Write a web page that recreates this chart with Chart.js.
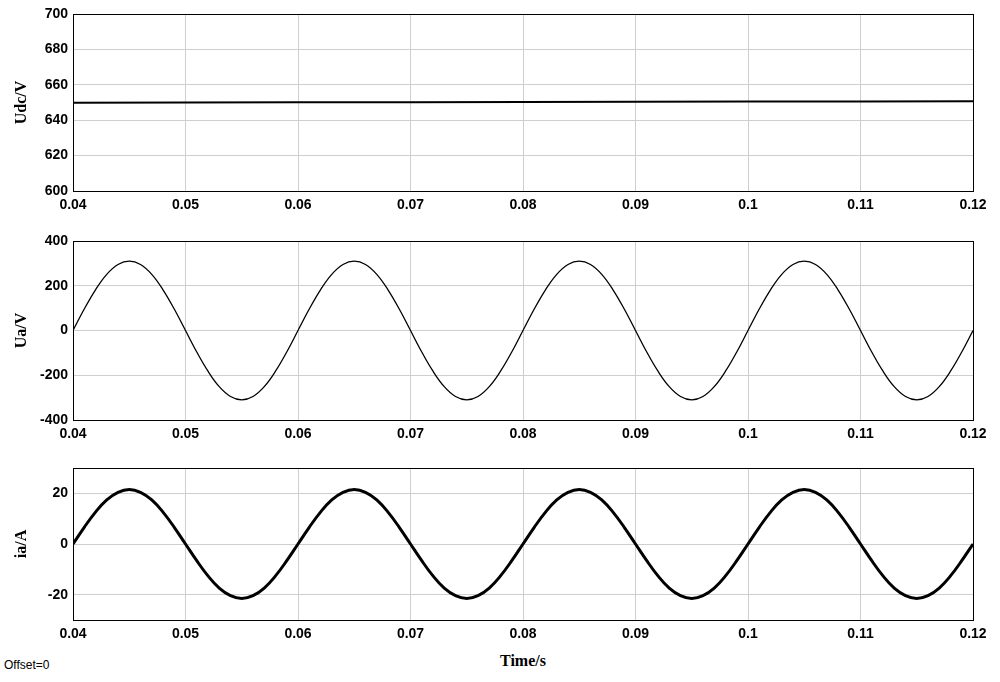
<!DOCTYPE html>
<html><head><meta charset="utf-8">
<script src="https://cdn.jsdelivr.net/npm/chart.js@4/dist/chart.umd.min.js"></script>
<style>
body{margin:0;background:#fff;width:1000px;height:682px;position:relative;overflow:hidden}
.c{position:absolute;left:0;width:1000px}
#t{position:absolute;left:0;width:1000px;top:652px;text-align:center;font:bold 16px "Liberation Serif";padding-left:46px;box-sizing:border-box}
#o{position:absolute;left:4px;top:658px;font:12px "Liberation Sans"}
</style></head><body>
<div class="c" style="top:0;height:225px"><canvas id="c1"></canvas></div>
<div class="c" style="top:227px;height:227px"><canvas id="c2"></canvas></div>
<div class="c" style="top:454px;height:198px"><canvas id="c3"></canvas></div>
<div id="t">Time/s</div><div id="o">Offset=0</div>
<script>
const time=[0.040,0.041,0.042,0.043,0.044,0.045,0.046,0.047,0.048,0.049,0.050,0.051,0.052,0.053,0.054,0.055,0.056,0.057,0.058,0.059,0.060,0.061,0.062,0.063,0.064,0.065,0.066,0.067,0.068,0.069,0.070,0.071,0.072,0.073,0.074,0.075,0.076,0.077,0.078,0.079,0.080,0.081,0.082,0.083,0.084,0.085,0.086,0.087,0.088,0.089,0.090,0.091,0.092,0.093,0.094,0.095,0.096,0.097,0.098,0.099,0.100,0.101,0.102,0.103,0.104,0.105,0.106,0.107,0.108,0.109,0.110,0.111,0.112,0.113,0.114,0.115,0.116,0.117,0.118,0.119,0.120];
const ua=[0,96,182,251,295,310,295,251,182,96,0,-96,-182,-251,-295,-310,-295,-251,-182,-96,
0,96,182,251,295,310,295,251,182,96,0,-96,-182,-251,-295,-310,-295,-251,-182,-96,
0,96,182,251,295,310,295,251,182,96,0,-96,-182,-251,-295,-310,-295,-251,-182,-96,
0,96,182,251,295,310,295,251,182,96,0,-96,-182,-251,-295,-310,-295,-251,-182,-96,0];
const ia=[0,6.6,12.6,17.4,20.4,21.5,20.4,17.4,12.6,6.6,0,-6.6,-12.6,-17.4,-20.4,-21.5,-20.4,-17.4,-12.6,-6.6,
0,6.6,12.6,17.4,20.4,21.5,20.4,17.4,12.6,6.6,0,-6.6,-12.6,-17.4,-20.4,-21.5,-20.4,-17.4,-12.6,-6.6,
0,6.6,12.6,17.4,20.4,21.5,20.4,17.4,12.6,6.6,0,-6.6,-12.6,-17.4,-20.4,-21.5,-20.4,-17.4,-12.6,-6.6,
0,6.6,12.6,17.4,20.4,21.5,20.4,17.4,12.6,6.6,0,-6.6,-12.6,-17.4,-20.4,-21.5,-20.4,-17.4,-12.6,-6.6,0];
const udcTime=[0.04,0.06,0.08,0.10,0.12];
const udc=[649.9,650.1,650.3,650.5,650.7];
const xTicks=[0.04,0.05,0.06,0.07,0.08,0.09,0.1,0.11,0.12];

const box={id:'box',afterDraw(c){const a=c.chartArea,x=c.ctx;x.save();x.strokeStyle='#000';x.lineWidth=1;x.strokeRect(a.left+.5,a.top+.5,a.right-a.left,a.bottom-a.top);x.restore();}};
const tickFont={family:'Liberation Sans',size:14,weight:'bold'};
function mk(id,xs,ys,lw,ymin,ymax,title,xh,yt){
 new Chart(document.getElementById(id),{type:'line',
  data:{datasets:[{data:xs.map((t,i)=>({x:t,y:ys[i]})),borderColor:'#000',borderWidth:lw,pointRadius:0,tension:0.4,fill:false}]},
  options:{responsive:true,maintainAspectRatio:false,animation:false,
   layout:{padding:{top:14,right:27,left:0,bottom:0}},
   plugins:{legend:{display:false},tooltip:{enabled:false}},
   scales:{
    x:{type:'linear',min:0.04,max:0.12,afterFit:s=>{s.height=xh},
     afterBuildTicks:a=>{a.ticks=xTicks.map(v=>({value:v}))},
     grid:{color:'#cfcfcf',drawTicks:false},border:{display:false},
     ticks:{color:'#000',font:tickFont,padding:6,maxRotation:0,callback:v=>String(+v.toFixed(2))}},
    y:{min:ymin,max:ymax,afterFit:s=>{s.width=73},
     afterBuildTicks:a=>{a.ticks=yt.map(v=>({value:v}))},
     grid:{color:'#cfcfcf',drawTicks:false},border:{display:false},
     ticks:{color:'#000',font:tickFont,padding:5},
     title:{display:true,text:title,color:'#000',font:{family:'Liberation Serif',size:16,weight:'bold'},padding:{top:12,bottom:0}}}}},
  plugins:[box]});
}
mk('c1',udcTime,udc,2,600,700,'Udc/V',34,[600,620,640,660,680,700]);
mk('c2',time,ua,1.3,-400,400,'Ua/V',34,[-400,-200,0,200,400]);
mk('c3',time,ia,3,-30,30,'ia/A',32,[-20,0,20]);
</script></body></html>
